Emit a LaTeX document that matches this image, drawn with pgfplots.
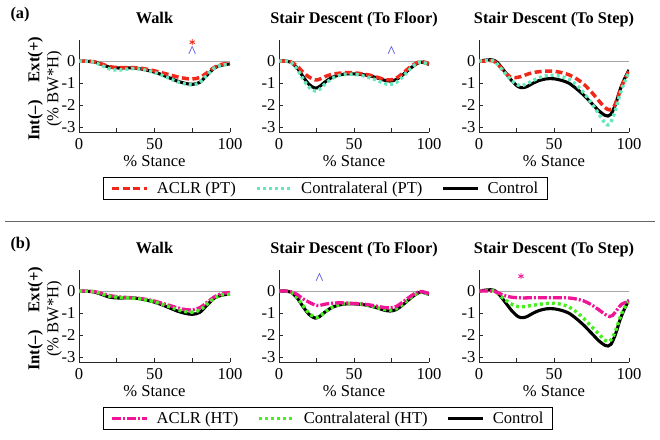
\documentclass[border=0pt]{standalone}
\usepackage{fontspec}
\setmainfont{Liberation Serif}
\usepackage{pgfplots}
\pgfplotsset{compat=1.18}
\usetikzlibrary{plotmarks}
\newcommand\fs{\fontsize{16.6}{19}\selectfont}
\newcommand\fb{\fontsize{16.3}{19}\selectfont}
\definecolor{aclrpt}{RGB}{240,40,25}
\definecolor{contrapt}{RGB}{100,232,185}
\definecolor{aclrht}{RGB}{240,20,150}
\definecolor{contraht}{RGB}{70,240,30}
\definecolor{carat}{RGB}{60,60,225}
\pgfplotsset{
  sACLRPT/.style={color=aclrpt, line width=3.5pt, dash pattern=on 7pt off 3.5pt},
  sCONPT/.style={color=contrapt, line width=3.4pt, dash pattern=on 3pt off 3pt},
  sCTRL/.style={color=black, line width=3.1pt},
  sACLRHT/.style={color=aclrht, line width=3.3pt, dash pattern=on 9pt off 2pt on 2pt off 2pt},
  sCONHT/.style={color=contraht, line width=3.4pt, dash pattern=on 3pt off 3pt},
  base/.style={
    scale only axis, width=150pt, height=92pt,
    xmin=0, xmax=100, ymin=-3.2, ymax=0.95,
    axis x line*=bottom, axis y line*=left,
    axis line style={-, black!85, line width=0.8pt},
    xtick={0,25,50,75,100}, xticklabels={0,,50,,100},
    ytick={-3,-2,-1,0}, yticklabels={-3,-2,-1,0},
    tick align=inside, major tick length=4pt,
    tick style={black!85, line width=0.8pt},
    tick label style={font=\fs},
    xticklabel style={anchor=base, yshift=-17.5pt},
    title style={font=\bfseries\fb, at={(axis description cs:0.5,1)}, anchor=base, yshift=11pt},
    xlabel={\% Stance},
    xlabel style={font=\fs, at={(axis description cs:0.5,0)}, anchor=base, yshift=-34pt},
    legend image code/.code={\draw[##1] (0pt,0pt) -- (35pt,0pt);},
    every axis plot/.append style={smooth},
  },
  ylab/.style={
    ylabel={\textbf{Int(–)\hspace{18pt}Ext(+)}\\(\% BW*H)},
    ylabel style={font=\fs, align=center, at={(axis description cs:-0.09,0.47)}, anchor=south},
  },
  leg/.style={
    legend style={font=\fs, draw=black, line width=0.8pt, at={(axis description cs:-1.173,-0.489)}, anchor=north west,
      inner xsep=7pt, inner ysep=2.5pt, legend columns=3, legend cell align=left,
      /tikz/every odd column/.append style={column sep=6pt},
      /tikz/every even column/.append style={column sep=17pt}},
  },
}
\begin{document}
\begin{tikzpicture}
\path[use as bounding box] (0,0) rectangle (660pt,-439pt);
\node[font=\bfseries\fb, anchor=base west] at (7pt,-18pt) {(a)};
\node[font=\bfseries\fb, anchor=base west] at (7pt,-248pt) {(b)};
\draw[black!60, line width=0.8pt] (5pt,-221pt) -- (655pt,-221pt);

% ---------------- Row (a) ----------------
\begin{axis}[base, ylab, at={(79pt,-132pt)}, anchor=south west, width=151pt, title={Walk}]
\addplot[gray!70, line width=0.6pt, sharp plot] coordinates {(0,0)(100,0)};
\addplot[sCTRL] coordinates {(0,0)(5,-0.01)(10,-0.04)(15,-0.15)(20,-0.27)(25,-0.31)(30,-0.31)(35,-0.31)(40,-0.34)(45,-0.41)(50,-0.5)(55,-0.62)(60,-0.76)(65,-0.9)(70,-1.0)(75,-1.05)(80,-0.96)(85,-0.62)(90,-0.3)(95,-0.18)(100,-0.13)};
\addplot[sACLRPT] coordinates {(0,0)(5,-0.01)(10,-0.03)(15,-0.13)(20,-0.25)(25,-0.29)(30,-0.3)(35,-0.3)(40,-0.31)(45,-0.37)(50,-0.44)(55,-0.53)(60,-0.62)(65,-0.71)(70,-0.78)(75,-0.81)(80,-0.74)(85,-0.52)(90,-0.27)(95,-0.14)(100,-0.1)};
\addplot[sCONPT] coordinates {(0,0)(5,-0.01)(10,-0.05)(15,-0.2)(20,-0.35)(25,-0.41)(30,-0.38)(35,-0.34)(40,-0.36)(45,-0.42)(50,-0.52)(55,-0.64)(60,-0.79)(65,-0.93)(70,-1.03)(75,-1.08)(80,-0.97)(85,-0.62)(90,-0.3)(95,-0.18)(100,-0.14)};
\addplot[only marks, mark=asterisk, mark size=3pt, color=aclrpt, line width=0.9pt] coordinates {(75,0.85)};
\addplot[only marks, mark=text, text mark={\fs\textcolor{carat}{\textasciicircum}}] coordinates {(75,0.42)};
\end{axis}

\begin{axis}[base, leg, at={(279pt,-132pt)}, anchor=south west, title={Stair Descent (To Floor)}]
\addplot[gray!70, line width=0.6pt, sharp plot, forget plot] coordinates {(0,0)(100,0)};
\addplot[sCTRL, forget plot] coordinates {(0,0)(5,0.0)(8,-0.05)(12,-0.3)(16,-0.7)(20,-1.05)(24,-1.22)(27,-1.15)(30,-0.98)(35,-0.75)(40,-0.63)(45,-0.58)(50,-0.58)(55,-0.6)(60,-0.66)(65,-0.75)(70,-0.86)(74,-0.9)(78,-0.84)(82,-0.65)(86,-0.42)(90,-0.2)(94,-0.05)(97,-0.08)(100,-0.15)};
\addplot[sACLRPT, forget plot] coordinates {(0,0)(5,0)(8,-0.04)(12,-0.22)(16,-0.5)(20,-0.72)(24,-0.85)(27,-0.82)(30,-0.72)(35,-0.6)(40,-0.55)(45,-0.52)(50,-0.53)(55,-0.57)(60,-0.63)(65,-0.72)(70,-0.82)(74,-0.85)(78,-0.78)(82,-0.58)(86,-0.35)(90,-0.15)(94,-0.02)(97,-0.05)(100,-0.12)};
\addplot[sCONPT, forget plot] coordinates {(0,0)(5,0)(8,-0.06)(12,-0.35)(16,-0.8)(20,-1.18)(24,-1.35)(27,-1.28)(30,-1.08)(35,-0.8)(40,-0.65)(45,-0.6)(50,-0.6)(55,-0.65)(60,-0.74)(65,-0.86)(70,-1.0)(74,-1.06)(78,-0.97)(82,-0.74)(86,-0.46)(90,-0.2)(94,-0.05)(97,-0.08)(100,-0.15)};
\addplot[only marks, mark=text, text mark={\fs\textcolor{carat}{\textasciicircum}}, forget plot] coordinates {(75,0.42)};
\addlegendimage{sACLRPT}\addlegendentry{ACLR (PT)}
\addlegendimage{sCONPT}\addlegendentry{Contralateral (PT)}
\addlegendimage{sCTRL}\addlegendentry{Control}
\end{axis}

\begin{axis}[base, at={(479pt,-132pt)}, anchor=south west, title={Stair Descent (To Step)}]
\addplot[gray!70, line width=0.6pt, sharp plot] coordinates {(0,0)(100,0)};
\addplot[sCTRL] coordinates {(0,0)(4,0.04)(8,0.06)(11,0.0)(14,-0.2)(18,-0.55)(22,-0.9)(26,-1.15)(29,-1.2)(32,-1.15)(36,-1.0)(40,-0.88)(45,-0.8)(50,-0.8)(55,-0.87)(60,-1.0)(65,-1.25)(70,-1.55)(75,-1.9)(80,-2.25)(84,-2.45)(86,-2.48)(88,-2.4)(91,-1.95)(94,-1.3)(97,-0.8)(100,-0.4)};
\addplot[sACLRPT] coordinates {(0,0)(4,0.0)(8,0.02)(11,-0.05)(14,-0.25)(18,-0.55)(21,-0.72)(24,-0.75)(28,-0.7)(32,-0.6)(36,-0.52)(40,-0.48)(45,-0.45)(50,-0.46)(55,-0.52)(60,-0.62)(65,-0.8)(70,-1.05)(75,-1.4)(80,-1.8)(84,-2.1)(87,-2.2)(90,-2.05)(93,-1.55)(96,-1.0)(100,-0.45)};
\addplot[sCONPT] coordinates {(0,0)(4,0.02)(8,0.03)(11,-0.05)(14,-0.28)(18,-0.6)(22,-0.9)(26,-1.08)(29,-1.1)(32,-1.02)(36,-0.88)(40,-0.75)(45,-0.66)(50,-0.64)(55,-0.7)(60,-0.82)(65,-1.08)(70,-1.45)(75,-1.9)(80,-2.4)(84,-2.8)(86,-2.88)(88,-2.75)(91,-2.2)(94,-1.5)(97,-0.95)(100,-0.5)};
\end{axis}

% ---------------- Row (b) ----------------
\begin{axis}[base, ylab, at={(79pt,-362pt)}, anchor=south west, width=151pt, title={Walk}]
\addplot[gray!70, line width=0.6pt, sharp plot] coordinates {(0,0)(100,0)};
\addplot[sCTRL] coordinates {(0,0)(5,-0.01)(10,-0.04)(15,-0.15)(20,-0.27)(25,-0.31)(30,-0.31)(35,-0.31)(40,-0.34)(45,-0.41)(50,-0.5)(55,-0.62)(60,-0.76)(65,-0.9)(70,-1.0)(75,-1.05)(80,-0.96)(85,-0.62)(90,-0.3)(95,-0.18)(100,-0.13)};
\addplot[sACLRHT] coordinates {(0,0)(5,0)(10,-0.02)(15,-0.1)(20,-0.2)(25,-0.25)(30,-0.28)(35,-0.3)(40,-0.33)(45,-0.38)(50,-0.45)(55,-0.55)(60,-0.65)(65,-0.75)(70,-0.83)(75,-0.85)(80,-0.75)(85,-0.5)(90,-0.25)(95,-0.1)(100,-0.08)};
\addplot[sCONHT] coordinates {(0,0)(5,0)(10,-0.02)(15,-0.12)(20,-0.23)(25,-0.27)(30,-0.3)(35,-0.32)(40,-0.35)(45,-0.41)(50,-0.49)(55,-0.6)(60,-0.71)(65,-0.83)(70,-0.92)(75,-0.95)(80,-0.86)(85,-0.58)(90,-0.3)(95,-0.17)(100,-0.14)};
\end{axis}

\begin{axis}[base, leg, at={(279pt,-362pt)}, anchor=south west, title={Stair Descent (To Floor)}]
\addplot[gray!70, line width=0.6pt, sharp plot, forget plot] coordinates {(0,0)(100,0)};
\addplot[sCTRL, forget plot] coordinates {(0,0)(5,0.0)(8,-0.05)(12,-0.3)(16,-0.7)(20,-1.05)(24,-1.22)(27,-1.15)(30,-0.98)(35,-0.75)(40,-0.63)(45,-0.58)(50,-0.58)(55,-0.6)(60,-0.66)(65,-0.75)(70,-0.86)(74,-0.9)(78,-0.84)(82,-0.65)(86,-0.42)(90,-0.2)(94,-0.05)(97,-0.08)(100,-0.15)};
\addplot[sCONHT, forget plot] coordinates {(0,0)(5,0)(8,-0.05)(12,-0.28)(16,-0.65)(20,-1.0)(24,-1.18)(27,-1.15)(30,-0.98)(35,-0.75)(40,-0.62)(45,-0.56)(50,-0.56)(55,-0.59)(60,-0.65)(65,-0.74)(70,-0.83)(74,-0.86)(78,-0.8)(82,-0.62)(86,-0.4)(90,-0.18)(94,-0.04)(97,-0.08)(100,-0.15)};
\addplot[sACLRHT, forget plot] coordinates {(0,0)(5,0)(8,-0.03)(12,-0.15)(16,-0.35)(20,-0.5)(24,-0.63)(27,-0.65)(30,-0.6)(35,-0.55)(40,-0.53)(45,-0.54)(50,-0.56)(55,-0.58)(60,-0.62)(65,-0.68)(70,-0.74)(74,-0.76)(78,-0.7)(82,-0.52)(86,-0.32)(90,-0.13)(94,-0.02)(97,-0.05)(100,-0.12)};
\addplot[only marks, mark=text, text mark={\fs\textcolor{carat}{\textasciicircum}}, forget plot] coordinates {(27,0.53)};
\addlegendimage{sACLRHT}\addlegendentry{ACLR (HT)}
\addlegendimage{sCONHT}\addlegendentry{Contralateral (HT)}
\addlegendimage{sCTRL}\addlegendentry{Control}
\end{axis}

\begin{axis}[base, at={(479pt,-362pt)}, anchor=south west, title={Stair Descent (To Step)}]
\addplot[gray!70, line width=0.6pt, sharp plot] coordinates {(0,0)(100,0)};
\addplot[sCTRL] coordinates {(0,0)(4,0.04)(8,0.06)(11,0.0)(14,-0.2)(18,-0.55)(22,-0.9)(26,-1.15)(29,-1.2)(32,-1.15)(36,-1.0)(40,-0.88)(45,-0.8)(50,-0.8)(55,-0.87)(60,-1.0)(65,-1.25)(70,-1.55)(75,-1.9)(80,-2.25)(84,-2.45)(86,-2.48)(88,-2.4)(91,-1.95)(94,-1.3)(97,-0.8)(100,-0.4)};
\addplot[sCONHT] coordinates {(0,0)(4,0.02)(8,0.03)(11,-0.03)(14,-0.2)(18,-0.42)(22,-0.6)(26,-0.7)(30,-0.7)(35,-0.65)(40,-0.6)(45,-0.56)(50,-0.55)(55,-0.6)(60,-0.72)(65,-0.95)(70,-1.25)(75,-1.6)(80,-1.95)(84,-2.22)(86,-2.28)(88,-2.2)(91,-1.8)(94,-1.2)(97,-0.75)(100,-0.45)};
\addplot[sACLRHT] coordinates {(0,0)(4,0.0)(8,0.0)(11,-0.03)(14,-0.12)(18,-0.22)(22,-0.28)(26,-0.3)(30,-0.31)(35,-0.3)(40,-0.3)(45,-0.3)(50,-0.3)(55,-0.3)(60,-0.31)(65,-0.36)(70,-0.45)(75,-0.62)(80,-0.85)(84,-1.05)(87,-1.15)(89,-1.1)(92,-0.85)(95,-0.6)(100,-0.45)};
\addplot[only marks, mark=asterisk, mark size=3pt, color=aclrht, line width=0.9pt] coordinates {(28,0.67)};
\end{axis}
\end{tikzpicture}
\end{document}
